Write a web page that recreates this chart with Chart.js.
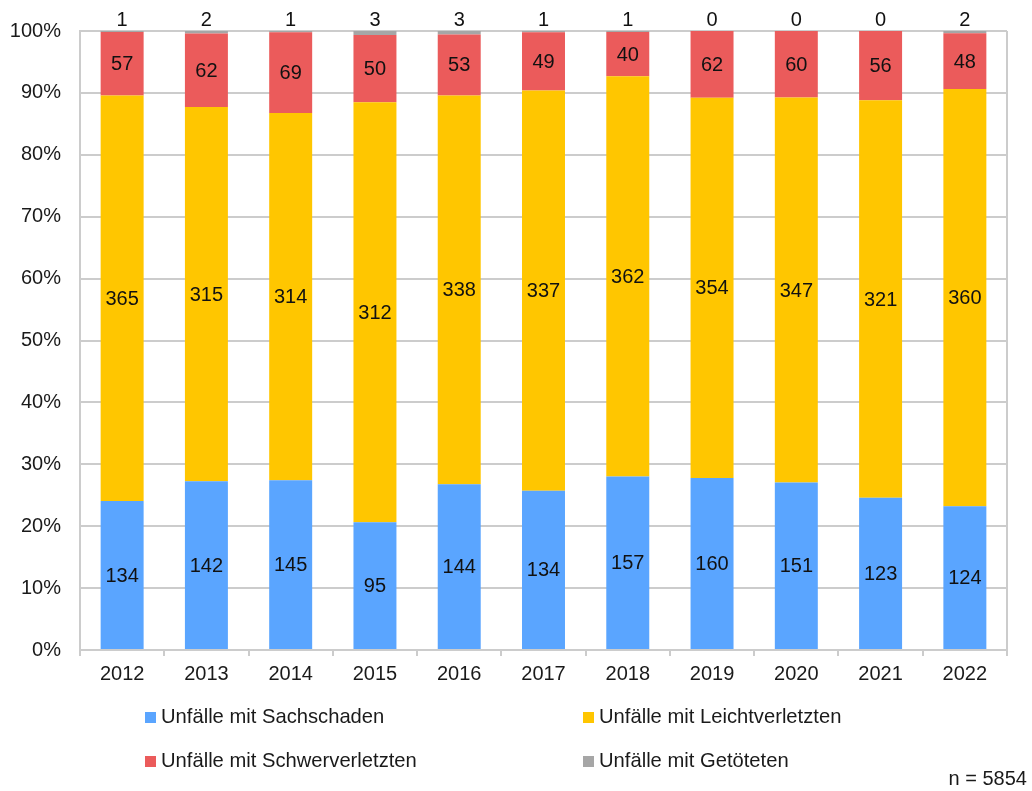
<!DOCTYPE html>
<html lang="de">
<head>
  <meta charset="UTF-8" />
  <title>Unfälle nach Unfallfolge 2012–2022</title>
  <script src="https://cdn.jsdelivr.net/npm/chart.js"></script>
  <style>
    body { margin: 0; background: #fff; font-family: "Liberation Sans", Arial, sans-serif; }
    .wrap { position: relative; width: 1032px; height: 791px; }
    canvas { position: absolute; left: 0; top: 0; }
    .leg { position: absolute; font-size: 20.2px; color: #1a1a1a; line-height: 22px; white-space: nowrap; }
    .leg i { display: inline-block; width: 11px; height: 11px; margin-right: 5px; vertical-align: 0px; }
    .n { position: absolute; right: 5px; top: 767px; font-size: 20px; line-height: 22px; color: #1a1a1a; }
  </style>
</head>
<body>
  <div class="wrap">
    <canvas id="unfaelle" width="1032" height="791"></canvas>
    <div class="leg" style="left:145px; top:705px"><i style="background:#5aa5ff"></i>Unfälle mit Sachschaden</div>
    <div class="leg" style="left:583px; top:705px"><i style="background:#ffc600"></i>Unfälle mit Leichtverletzten</div>
    <div class="leg" style="left:145px; top:749px"><i style="background:#eb5b5b"></i>Unfälle mit Schwerverletzten</div>
    <div class="leg" style="left:583px; top:749px"><i style="background:#a6a6a6"></i>Unfälle mit Getöteten</div>
    <div class="n">n = 5854</div>
  </div>

  <script>
    const jahre = ['2012', '2013', '2014', '2015', '2016', '2017', '2018', '2019', '2020', '2021', '2022'];
    const sachschaden = [134, 142, 145, 95, 144, 134, 157, 160, 151, 123, 124];
    const leichtverletzt = [365, 315, 314, 312, 338, 337, 362, 354, 347, 321, 360];
    const schwerverletzt = [57, 62, 69, 50, 53, 49, 40, 62, 60, 56, 48];
    const getoetet = [1, 2, 1, 3, 3, 1, 1, 0, 0, 0, 2];

    const reihen = [
      { label: 'Unfälle mit Sachschaden', werte: sachschaden, farbe: '#5aa5ff' },
      { label: 'Unfälle mit Leichtverletzten', werte: leichtverletzt, farbe: '#ffc600' },
      { label: 'Unfälle mit Schwerverletzten', werte: schwerverletzt, farbe: '#eb5b5b' },
      { label: 'Unfälle mit Getöteten', werte: getoetet, farbe: '#a6a6a6' }
    ];

    // Summe pro Jahr für die 100%-Darstellung
    const summen = jahre.map((_, i) => reihen.reduce((s, r) => s + r.werte[i], 0));

    const schrift = '"Liberation Sans", Arial, sans-serif';

    // Anzahl in jedes Segment schreiben, Getötete oberhalb des Balkens
    const anzahlLabels = {
      id: 'anzahlLabels',
      afterDatasetsDraw(chart) {
        const ctx = chart.ctx;
        ctx.save();
        ctx.font = '20px ' + schrift;
        ctx.fillStyle = '#111';
        ctx.textAlign = 'center';
        ctx.textBaseline = 'middle';
        chart.data.datasets.forEach((ds, d) => {
          const meta = chart.getDatasetMeta(d);
          meta.data.forEach((bar, i) => {
            const wert = ds.anzahl[i];
            if (d === 3) {
              ctx.fillText(wert, bar.x, chart.chartArea.top - 11);
            } else {
              ctx.fillText(wert, bar.x, (bar.y + bar.base) / 2 + 1);
            }
          });
        });
        ctx.restore();
      }
    };

    // rechter Rahmen der Zeichenfläche
    const rahmen = {
      id: 'rahmen',
      beforeDatasetsDraw(chart) {
        const { ctx, chartArea: a } = chart;
        ctx.save();
        ctx.strokeStyle = '#cccccc';
        ctx.lineWidth = 2;
        ctx.beginPath();
        ctx.moveTo(a.right, a.top);
        ctx.lineTo(a.right, a.bottom);
        ctx.stroke();
        ctx.restore();
      }
    };

    new Chart(document.getElementById('unfaelle'), {
      type: 'bar',
      data: {
        labels: jahre,
        datasets: reihen.map(r => ({
          label: r.label,
          anzahl: r.werte,
          data: r.werte.map((v, i) => v / summen[i] * 100),
          backgroundColor: r.farbe,
          borderWidth: 0,
          categoryPercentage: 1,
          barPercentage: 0.51
        }))
      },
      options: {
        responsive: false,
        animation: false,
        layout: { padding: { top: 30, right: 25, bottom: 101, left: 0 } },
        plugins: {
          legend: { display: false },
          tooltip: { enabled: false }
        },
        scales: {
          x: {
            stacked: true,
            offset: true,
            grid: { offset: true, drawOnChartArea: false, drawTicks: true, tickLength: 6, color: '#cccccc', lineWidth: 2 },
            border: { color: '#cccccc', width: 2 },
            ticks: { color: '#1a1a1a', font: { family: schrift, size: 20 }, padding: 6 },
            afterFit(scale) { scale.height = 40; }
          },
          y: {
            stacked: true,
            min: 0,
            max: 100,
            grid: { color: '#cccccc', lineWidth: 2, drawTicks: false },
            border: { color: '#cccccc', width: 2 },
            ticks: {
              stepSize: 10,
              color: '#1a1a1a',
              font: { family: schrift, size: 20 },
              padding: 19,
              callback: v => v + '%'
            },
            afterFit(scale) { scale.width = 80; }
          }
        }
      },
      plugins: [rahmen, anzahlLabels]
    });
  </script>
</body>
</html>
